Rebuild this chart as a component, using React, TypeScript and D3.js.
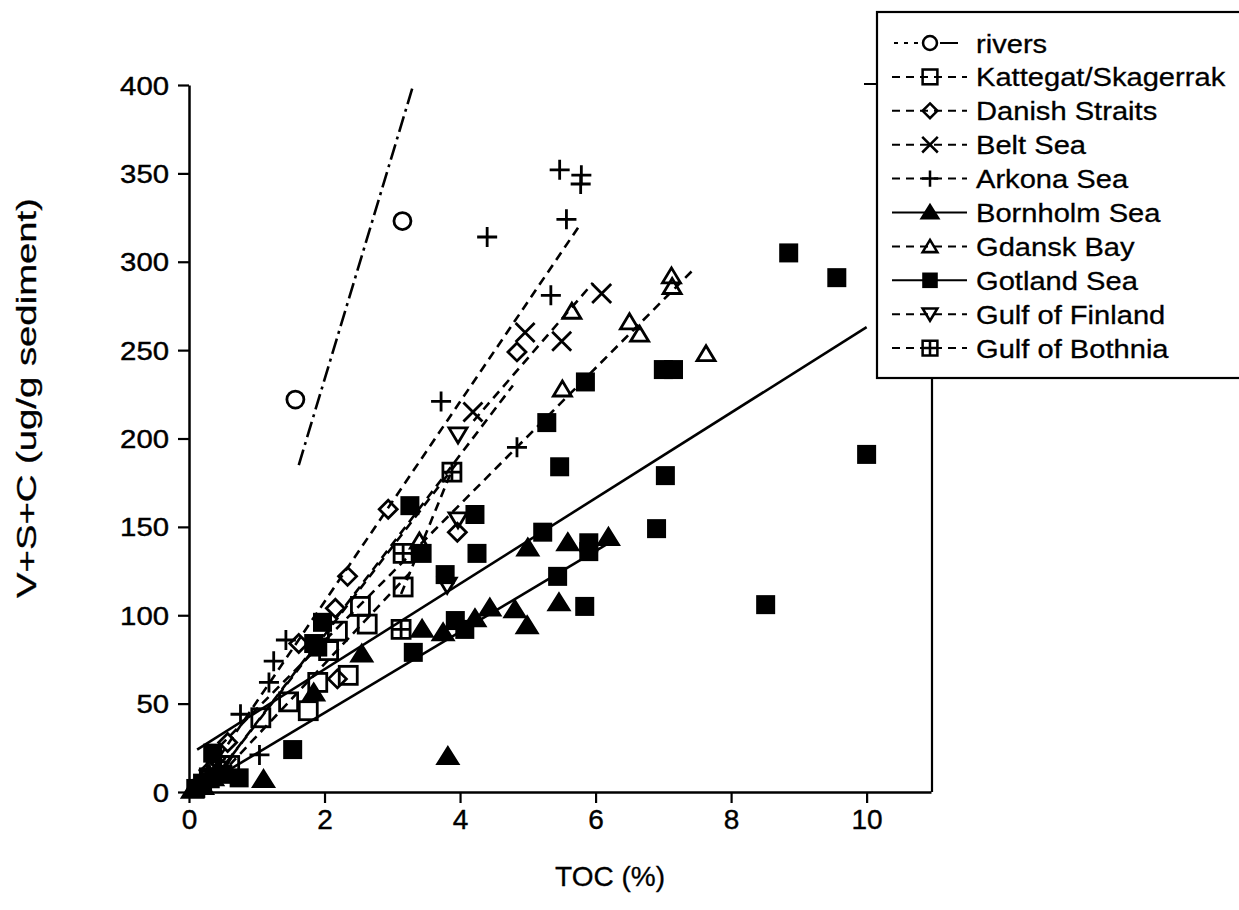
import * as d3 from 'd3';
import { useRef, useEffect } from 'react';

// --- data: TOC (%) vs V+S+C (ug/g sediment) ---
const xTicks = [0, 2, 4, 6, 8, 10];
const yTicks = [0, 50, 100, 150, 200, 250, 300, 350, 400];

const rivers = [[1.57, 222], [3.15, 323]];
const kattegat = [[0.3, 8], [0.6, 15], [1.06, 42], [1.47, 51], [1.76, 46], [1.9, 62], [2.06, 80], [2.19, 91], [2.35, 66], [2.53, 105], [2.63, 95], [3.16, 116]];
const danish = [[0.3, 12], [0.57, 28], [1.62, 84], [2.16, 104], [2.19, 64], [2.34, 122], [2.94, 160], [3.96, 147], [4.84, 249]];
const belt = [[0.4, 14], [4.19, 215], [4.96, 260], [5.5, 255], [6.09, 282]];
const arkona = [[0.3, 10], [0.76, 44], [1.04, 21], [1.18, 62], [1.25, 74], [1.43, 86], [3.72, 221], [4.84, 195], [5.34, 281], [4.4, 314], [5.57, 324], [5.47, 352], [5.79, 349], [5.78, 344]];
const bornholm = [[0.05, 1], [0.2, 3], [0.35, 8], [1.1, 7], [1.84, 56], [2.55, 78], [3.44, 92], [3.75, 90], [3.82, 20], [4.22, 98], [4.44, 104], [4.81, 103], [4.99, 94], [5.0, 138], [5.46, 107], [5.59, 141], [6.19, 144]];
const gdansk = [[0.3, 10], [3.4, 142], [5.51, 228], [5.65, 272], [6.5, 266], [6.65, 259], [7.12, 292], [7.13, 286], [7.63, 248]];
const gotland = [[0.1, 2], [0.2, 5], [0.35, 22], [0.5, 10], [0.74, 8], [1.53, 24], [1.84, 84], [1.9, 82], [1.97, 96], [3.26, 162], [3.31, 79], [3.44, 135], [3.78, 123], [3.93, 97], [4.07, 92], [4.22, 157], [4.25, 135], [5.22, 147], [5.28, 209], [5.44, 122], [5.47, 184], [5.84, 105], [5.85, 232], [5.9, 141], [5.9, 136], [6.9, 149], [7.03, 179], [7.0, 239], [7.15, 239], [8.51, 106], [8.85, 305], [9.56, 291], [10.0, 191]];
const finland = [[0.3, 8], [0.5, 16], [3.81, 117], [3.97, 154], [3.97, 202]];
const bothnia = [[0.4, 12], [3.13, 92], [3.16, 135], [3.88, 181]];

// fitted lines, as [start, end] in data units
const riversFit = [[1.62, 185], [3.31, 400]];
const kattegatFit = [[0.3, 3], [3.26, 124]];
const danishFit = [[0.3, 4], [4.78, 230]];
const beltFit = [[4.2, 210], [5.96, 288]];
const arkonaFit = [[0.45, 20], [5.79, 322]];
const bornholmFit = [[0.35, 7], [6.2, 141]];
const gdanskFit = [[0.3, 20], [7.43, 295]];
const gotlandFit = [[0.12, 24], [10.0, 263]];
const finlandFit = [[0.5, 14], [3.97, 187]];
const bothniaFit = [[3.13, 112], [3.88, 182]];

const names = ["rivers", "Kattegat/Skagerrak", "Danish Straits", "Belt Sea", "Arkona Sea", "Bornholm Sea", "Gdansk Bay", "Gotland Sea", "Gulf of Finland", "Gulf of Bothnia"];
const points = [rivers, kattegat, danish, belt, arkona, bornholm, gdansk, gotland, finland, bothnia];
const fits = [riversFit, kattegatFit, danishFit, beltFit, arkonaFit, bornholmFit, gdanskFit, gotlandFit, finlandFit, bothniaFit];

// styles
const shapes = ["circle", "square", "diamond", "x", "plus", "triFill", "tri", "sqFill", "triDown", "sqCross"];
const lineKind = ["dashdot", "dash", "dash", "dash", "dash", "solid", "dash", "solid", "dash", "dash"];

const FONT = "'Liberation Sans', Arial, Helvetica, sans-serif";

function drawMarker(g, shape, cx, cy, s) {
  const m = g.append("g").attr("transform", `translate(${cx},${cy}) scale(${s})`)
    .attr("stroke", "#000").attr("stroke-width", 2.8 / Math.sqrt(s)).attr("fill", "none");
  if (shape === "circle") m.append("circle").attr("r", 8.5);
  if (shape === "square") m.append("rect").attr("x", -9).attr("y", -9).attr("width", 18).attr("height", 18);
  if (shape === "diamond") m.append("path").attr("d", "M0,-9L9,0L0,9L-9,0Z");
  if (shape === "x") m.append("path").attr("d", "M-9.5,-9.5L9.5,9.5M-9.5,9.5L9.5,-9.5");
  if (shape === "plus") m.append("path").attr("d", "M-10,0H10M0,-10V10");
  if (shape === "triFill") m.append("path").attr("d", "M0,-9L10,7L-10,7Z").attr("fill", "#000");
  if (shape === "tri") m.append("path").attr("d", "M0,-8L9,7L-9,7Z");
  if (shape === "sqFill") m.append("rect").attr("x", -9.5).attr("y", -9.5).attr("width", 19).attr("height", 19).attr("fill", "#000").attr("stroke", "none");
  if (shape === "triDown") m.append("path").attr("d", "M0,8L9,-7L-9,-7Z");
  if (shape === "sqCross") m.append("path").attr("d", "M-9,-9H9V9H-9ZM0,-9V9M-9,0H9");
}

function dashFor(kind) {
  if (kind === "dash") return "9,6";
  if (kind === "dashdot") return "16,5,3,5";
  return null;
}

export default function App() {
  const ref = useRef(null);

  useEffect(() => {
    document.body.style.margin = "0";
    const width = 1239;
    const height = 910;

    const x = d3.scaleLinear().domain([0, 10.95]).range([189, 931]);
    const y = d3.scaleLinear().domain([0, 400]).range([792, 85]);

    const svg = d3.select(ref.current)
      .attr("width", width)
      .attr("height", height)
      .attr("viewBox", `0 0 ${width} ${height}`)
      .style("font-family", FONT);

    svg.selectAll("*").remove();
    svg.append("rect").attr("width", width).attr("height", height).attr("fill", "#fff");

    // fit lines
    const line = d3.line().x(d => x(d[0])).y(d => y(d[1]));
    fits.forEach((f, i) => {
      svg.append("path")
        .attr("d", line(f))
        .attr("fill", "none")
        .attr("stroke", "#000")
        .attr("stroke-width", 2.6)
        .attr("stroke-dasharray", dashFor(lineKind[i]));
    });

    // markers
    points.forEach((pts, i) => {
      const g = svg.append("g");
      pts.forEach(p => drawMarker(g, shapes[i], x(p[0]), y(p[1]), 1));
    });

    // axes
    const yAxis = svg.append("g")
      .attr("transform", `translate(${x(0)},0)`)
      .call(d3.axisLeft(y).tickValues(yTicks).tickSize(11).tickSizeOuter(0));
    yAxis.select(".domain").attr("stroke-width", 2.5);
    yAxis.selectAll(".tick line").attr("stroke-width", 2.2);
    yAxis.selectAll(".tick text")
      .attr("x", 0).attr("dy", null)
      .attr("transform", "translate(-20,9) scale(1.15,1)")
      .attr("font-size", 25.5).attr("font-family", FONT).attr("fill", "#000")
      .attr("stroke", "#000").attr("stroke-width", 0.4);

    const xAxis = svg.append("g")
      .attr("transform", `translate(0,${y(0)})`)
      .call(d3.axisBottom(x).tickValues(xTicks).tickSize(11).tickSizeOuter(0));
    xAxis.select(".domain").attr("stroke-width", 2.5);
    xAxis.selectAll(".tick line").attr("stroke-width", 2.2);
    xAxis.selectAll(".tick text")
      .attr("y", 37).attr("dy", null)
      .attr("font-size", 28).attr("font-family", FONT).attr("fill", "#000")
      .attr("stroke", "#000").attr("stroke-width", 0.4);

    // right frame and top stub
    svg.append("line").attr("x1", 932).attr("x2", 932).attr("y1", 378).attr("y2", y(0))
      .attr("stroke", "#000").attr("stroke-width", 2.2);
    svg.append("line").attr("x1", 864).attr("x2", 877).attr("y1", 84).attr("y2", 84)
      .attr("stroke", "#000").attr("stroke-width", 2);

    // axis titles
    svg.append("text")
      .attr("x", 610).attr("y", 886)
      .attr("text-anchor", "middle")
      .attr("font-size", 28)
      .attr("stroke", "#000").attr("stroke-width", 0.3)
      .text("TOC (%)");

    svg.append("text")
      .attr("transform", "translate(36,398) rotate(-90)")
      .attr("text-anchor", "middle")
      .attr("font-size", 27)
      .attr("textLength", 400)
      .attr("lengthAdjust", "spacingAndGlyphs")
      .attr("stroke", "#000").attr("stroke-width", 0.3)
      .text("V+S+C (ug/g sediment)");

    // legend
    const lg = svg.append("g");
    lg.append("rect")
      .attr("x", 877).attr("y", 12).attr("width", 420).attr("height", 366)
      .attr("fill", "#fff").attr("stroke", "#000").attr("stroke-width", 2.2);

    names.forEach((name, i) => {
      const cy = 43 + i * 33.9;
      if (lineKind[i] === "dashdot") {
        lg.append("line").attr("x1", 894).attr("x2", 921).attr("y1", cy).attr("y2", cy)
          .attr("stroke", "#000").attr("stroke-width", 2).attr("stroke-dasharray", "4,6");
        lg.append("line").attr("x1", 940).attr("x2", 958).attr("y1", cy).attr("y2", cy)
          .attr("stroke", "#000").attr("stroke-width", 2);
      } else {
        lg.append("line").attr("x1", 892).attr("x2", 967).attr("y1", cy).attr("y2", cy)
          .attr("stroke", "#000").attr("stroke-width", 2)
          .attr("stroke-dasharray", lineKind[i] === "dash" ? "8,6" : null);
      }
      drawMarker(lg, shapes[i], 930, cy, 0.82);
      lg.append("text")
        .attr("transform", `translate(976,${cy + 9.5}) scale(1.12,1)`)
        .attr("font-size", 26)
        .attr("stroke", "#000").attr("stroke-width", 0.3)
        .text(name);
    });
  }, []);

  return (
    <div style={{ position: "absolute", left: 0, top: 0 }}>
      <svg ref={ref} style={{ display: "block" }}></svg>
    </div>
  );
}
